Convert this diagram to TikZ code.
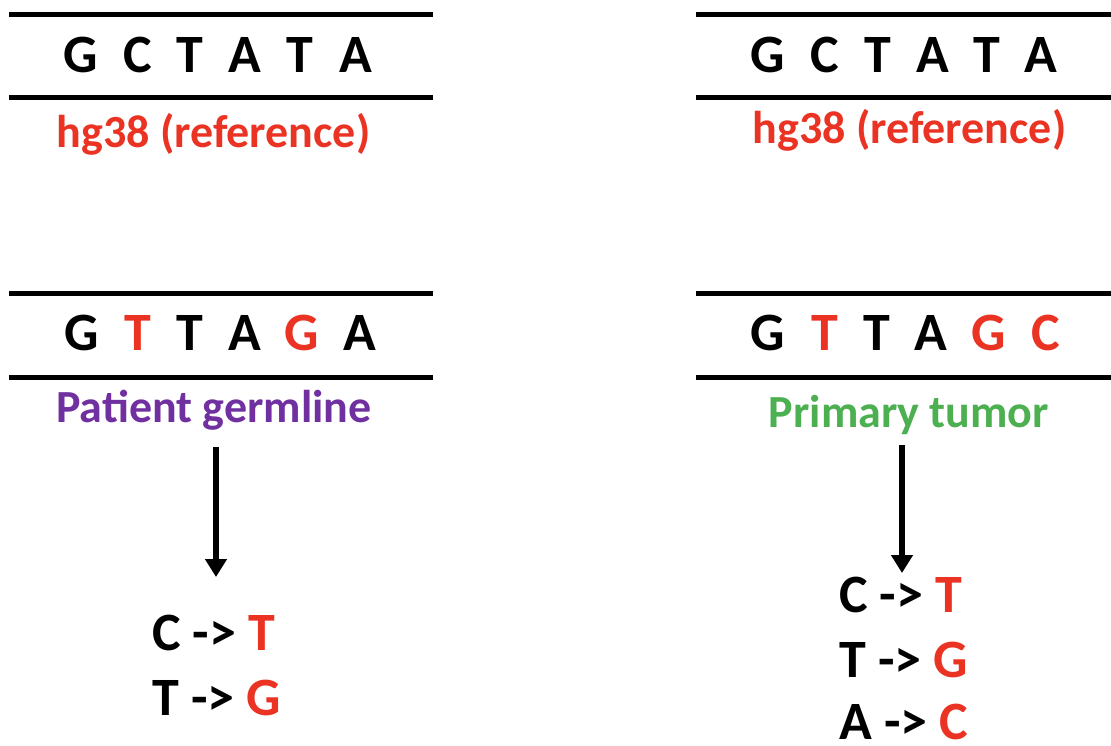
\documentclass[tikz,border=0pt]{standalone}
\usepackage{fontspec}
\setmainfont{Carlito}
\usetikzlibrary{arrows.meta}
\definecolor{mutred}{HTML}{EA3323}
\definecolor{germpurple}{HTML}{7030A0}
\definecolor{tumorgreen}{HTML}{4CAF50}
\tikzset{
  strand/.style={line width=5pt},
  base/.style={anchor=base, inner sep=0pt, font=\fontsize{54}{60}\selectfont\bfseries},
  mut/.style={base, text=mutred},
  tag/.style={anchor=base, inner sep=0pt, font=\fontsize{46}{52}\selectfont\bfseries},
  change/.style={anchor=base west, inner sep=0pt, font=\fontsize{54}{60}\selectfont\bfseries},
  flow/.style={line width=5.5pt, -{Triangle[width=21pt,length=18pt]}},
}
\begin{document}
\begin{tikzpicture}[x=1pt,y=-1pt]
\useasboundingbox (0,0) rectangle (1111,745);

% reference strand, left
\draw[strand] (9,14) -- (433,14);
\draw[strand] (9,97) -- (433,97);
\node[base] (l1) at (81,72) {G};
\node[base] (l2) at (137.5,72) {C};
\node[base] (l3) at (190,72) {T};
\node[base] (l4) at (245,72) {A};
\node[base] (l5) at (300,72) {T};
\node[base] (l6) at (355.5,72) {A};
\node[tag, text=mutred] (refl) at (213.5,147) {hg38 (reference)};

% reference strand, right
\draw[strand] (696,14) -- (1111,14);
\draw[strand] (696,97) -- (1111,97);
\node[base] (r1) at (767.5,72) {G};
\node[base] (r2) at (825,72) {C};
\node[base] (r3) at (877.5,72) {T};
\node[base] (r4) at (932.5,72) {A};
\node[base] (r5) at (986.5,72) {T};
\node[base] (r6) at (1041,72) {A};
\node[tag, text=mutred] (refr) at (909.5,143) {hg38 (reference)};

% germline strand
\draw[strand] (9,293.5) -- (433,293.5);
\draw[strand] (9,377) -- (433,377);
\node[base] (g1) at (82,350) {G};
\node[mut]  (g2) at (138,350) {T};
\node[base] (g3) at (190,350) {T};
\node[base] (g4) at (245,350) {A};
\node[mut]  (g5) at (302,350) {G};
\node[base] (g6) at (360,350) {A};
\node[tag, text=germpurple] (germ) at (214,422) {Patient germline};

% tumor strand
\draw[strand] (696,293.5) -- (1111,293.5);
\draw[strand] (696,377) -- (1111,377);
\node[base] (t1) at (767.5,350) {G};
\node[mut]  (t2) at (825,350) {T};
\node[base] (t3) at (877,350) {T};
\node[base] (t4) at (931,350) {A};
\node[mut]  (t5) at (989,350) {G};
\node[mut]  (t6) at (1046,350) {C};
\node[tag, text=tumorgreen] (tumor) at (909,427) {Primary tumor};

% germline changes
\coordinate (gs) at (216,447);
\coordinate (ge) at (216,577);
\draw[flow] (gs) -- (ge);
\node[change] (gc1) at (152,650) {C -> \textcolor{mutred}{T}};
\node[change] (gc2) at (152,715) {T -> \textcolor{mutred}{G}};

% tumor changes
\coordinate (ts) at (902,445);
\coordinate (te) at (902,573);
\draw[flow] (ts) -- (te);
\node[change] (tc1) at (839,612) {C -> \textcolor{mutred}{T}};
\node[change] (tc2) at (839,677) {T -> \textcolor{mutred}{G}};
\node[change] (tc3) at (839,739) {A -> \textcolor{mutred}{C}};
\end{tikzpicture}
\end{document}
